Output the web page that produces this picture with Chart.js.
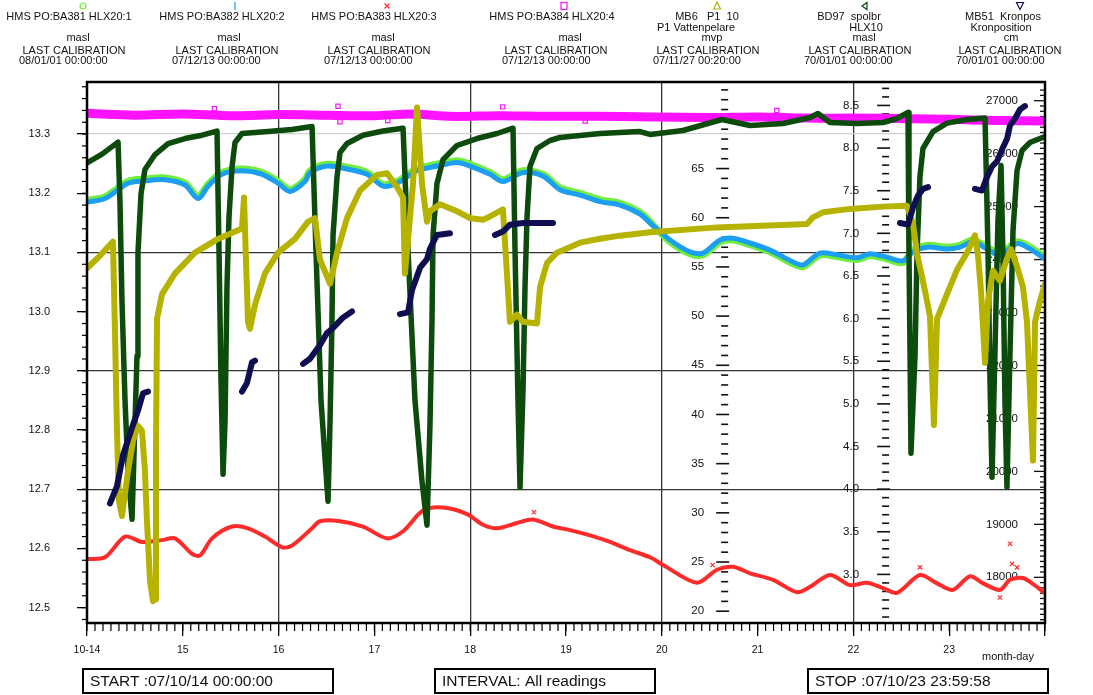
<!DOCTYPE html>
<html><head><meta charset="utf-8">
<script src="https://cdn.jsdelivr.net/npm/chart.js@4.4.0/dist/chart.umd.min.js"></script>
<style>html,body{margin:0;padding:0;background:#fff;}canvas{display:block;}</style>
</head><body>
<canvas id="c" width="1093" height="695"></canvas>
<script>
// ---------------- DATA ----------------
const seriesNames = ['HMS PO:BA381 HLX20:1','HMS PO:BA382 HLX20:2','HMS PO:BA383 HLX20:3','HMS PO:BA384 HLX20:4','MB6   P1  10','BD97  spolbr','MB51  Kronpos'];
const seriesSub   = ['','','','','P1 Vattenpelare','HLX10','Kronposition'];
const seriesUnits = ['masl','masl','masl','masl','mvp','masl','cm'];
const calibDates  = ['08/01/01 00:00:00','07/12/13 00:00:00','07/12/13 00:00:00','07/12/13 00:00:00','07/11/27 00:20:00','70/01/01 00:00:00','70/01/01 00:00:00'];

const dayTicks   = [14,15,16,17,18,19,20,21,22,23,24];
const gridDays   = [16,18,20,22];
const leftTicks  = [12.5,12.6,12.7,12.8,12.9,13.0,13.1,13.2,13.3];
const mvpLabels  = [20,25,30,35,40,45,50,55,60,65];
const hlxLabels  = [3.0,3.5,4.0,4.5,5.0,5.5,6.0,6.5,7.0,7.5,8.0,8.5];
const kronLabels = [18000,19000,20000,21000,22000,23000,24000,25000,26000,27000];

const startText = 'START :07/10/14 00:00:00';
const intervalText = 'INTERVAL: All readings';
const stopText = 'STOP :07/10/23 23:59:58';

// HLX20:1 (masl)
const hlx20_1 = [[14.000,13.188],[14.188,13.194],[14.428,13.220],[14.605,13.224],[14.814,13.226],[15.023,13.217],[15.159,13.194],[15.263,13.215],[15.409,13.235],[15.618,13.241],[15.827,13.235],[15.994,13.220],[16.119,13.206],[16.276,13.223],[16.328,13.238],[16.505,13.249],[16.714,13.244],[16.923,13.235],[17.090,13.215],[17.236,13.220],[17.445,13.241],[17.653,13.249],[17.862,13.255],[17.998,13.249],[18.207,13.235],[18.342,13.223],[18.551,13.238],[18.760,13.232],[18.937,13.209],[19.146,13.200],[19.355,13.189],[19.564,13.183],[19.772,13.168],[19.877,13.152],[20.086,13.118],[20.294,13.098],[20.430,13.096],[20.608,13.118],[20.743,13.121],[20.921,13.113],[21.129,13.101],[21.370,13.081],[21.474,13.076],[21.651,13.096],[21.829,13.093],[22.038,13.088],[22.173,13.095],[22.351,13.089],[22.518,13.083],[22.622,13.104],[22.768,13.112],[22.977,13.109],[23.113,13.112],[23.248,13.121],[23.395,13.109],[23.530,13.098],[23.708,13.118],[23.843,13.109],[24.000,13.092]];
// HLX20:2 (masl)
const hlx20_2 = [[14.000,13.185],[14.188,13.191],[14.428,13.217],[14.605,13.221],[14.814,13.223],[15.023,13.214],[15.159,13.191],[15.263,13.212],[15.409,13.232],[15.618,13.238],[15.827,13.232],[15.994,13.217],[16.119,13.203],[16.276,13.220],[16.328,13.235],[16.505,13.246],[16.714,13.241],[16.923,13.232],[17.090,13.212],[17.236,13.217],[17.445,13.238],[17.653,13.246],[17.862,13.252],[17.998,13.246],[18.207,13.232],[18.342,13.220],[18.551,13.235],[18.760,13.229],[18.937,13.206],[19.146,13.197],[19.355,13.186],[19.564,13.180],[19.772,13.165],[19.877,13.150],[20.086,13.121],[20.294,13.101],[20.430,13.099],[20.608,13.121],[20.743,13.124],[20.921,13.116],[21.129,13.104],[21.370,13.084],[21.474,13.079],[21.651,13.099],[21.829,13.096],[22.038,13.091],[22.173,13.098],[22.351,13.092],[22.518,13.086],[22.622,13.101],[22.768,13.109],[22.977,13.106],[23.113,13.109],[23.248,13.118],[23.395,13.106],[23.530,13.095],[23.708,13.115],[23.843,13.106],[24.000,13.089]];
// HLX20:3 (masl)
const hlx20_3 = [[14.000,12.582],[14.188,12.585],[14.397,12.620],[14.574,12.611],[14.783,12.614],[14.919,12.617],[15.096,12.591],[15.180,12.588],[15.305,12.617],[15.514,12.637],[15.681,12.634],[15.858,12.620],[16.036,12.602],[16.140,12.605],[16.349,12.634],[16.432,12.646],[16.641,12.646],[16.881,12.637],[17.132,12.617],[17.299,12.629],[17.507,12.664],[17.716,12.669],[17.967,12.658],[18.134,12.640],[18.280,12.634],[18.489,12.643],[18.656,12.649],[18.864,12.637],[19.042,12.631],[19.251,12.622],[19.459,12.611],[19.668,12.597],[19.877,12.585],[20.013,12.572],[20.367,12.542],[20.576,12.564],[20.743,12.569],[20.921,12.558],[21.161,12.547],[21.411,12.526],[21.547,12.535],[21.756,12.555],[21.965,12.538],[22.142,12.542],[22.309,12.533],[22.455,12.525],[22.695,12.555],[22.873,12.541],[23.040,12.530],[23.217,12.553],[23.353,12.541],[23.530,12.530],[23.635,12.547],[23.770,12.550],[23.916,12.535],[24.000,12.524]];
const hlx20_3_out = [[18.666,12.661],[20.530,12.572],[22.695,12.568],[23.530,12.517],[23.635,12.608],[23.656,12.574],[23.708,12.568]];
// HLX20:4 (masl)
const hlx20_4 = [[14.00,13.335],[14.5,13.332],[15.0,13.334],[15.5,13.331],[16.0,13.333],[16.5,13.332],[17.0,13.331],[17.4,13.334],[17.8,13.330],[18.3,13.331],[18.8,13.330],[19.3,13.330],[19.9,13.329],[20.5,13.328],[21.0,13.329],[21.5,13.327],[22.0,13.327],[22.6,13.326],[23.0,13.325],[23.5,13.323],[24.0,13.322]];
const hlx20_4_out = [[15.33,13.343],[16.62,13.347],[16.64,13.321],[17.14,13.323],[18.34,13.346],[19.20,13.322],[21.20,13.340]];
// MB6 P1 10 (mvp)
const mb6 = [[14.000,54.87],[14.115,55.93],[14.271,57.57],[14.292,48.51],[14.313,38.33],[14.334,31.20],[14.365,29.67],[14.428,34.25],[14.480,37.31],[14.532,38.84],[14.574,38.33],[14.605,34.25],[14.626,29.16],[14.658,23.05],[14.689,21.02],[14.710,21.22],[14.720,36.29],[14.731,49.73],[14.783,52.23],[14.919,54.34],[15.127,56.45],[15.367,57.85],[15.618,58.91],[15.639,62.07],[15.660,55.50],[15.681,49.42],[15.701,48.71],[15.754,51.19],[15.858,54.34],[15.994,56.45],[16.171,57.85],[16.307,59.60],[16.380,59.96],[16.432,55.75],[16.537,53.29],[16.610,56.45],[16.714,59.96],[16.850,62.77],[17.027,64.36],[17.132,64.53],[17.236,63.13],[17.299,62.07],[17.319,54.34],[17.403,63.47],[17.445,71.21],[17.497,63.47],[17.549,59.60],[17.580,60.66],[17.685,61.37],[17.862,60.66],[17.998,59.96],[18.134,59.79],[18.207,60.13],[18.342,60.84],[18.415,49.42],[18.489,50.14],[18.551,49.42],[18.697,49.25],[18.729,52.94],[18.802,55.40],[18.906,56.45],[19.146,57.47],[19.355,57.87],[19.564,58.18],[19.877,58.52],[20.576,59.02],[21.516,59.37],[21.578,60.04],[21.683,60.55],[21.965,60.90],[22.309,61.13],[22.559,61.23],[22.622,59.40],[22.664,56.35],[22.747,52.58],[22.800,49.93],[22.841,38.94],[22.873,49.73],[22.977,52.23],[23.081,54.70],[23.186,56.45],[23.269,58.21],[23.301,56.14],[23.332,52.58],[23.374,45.25],[23.405,51.56],[23.457,54.62],[23.530,53.60],[23.603,55.84],[23.645,56.80],[23.708,55.04],[23.770,52.94],[23.812,49.42],[23.843,42.40],[23.875,35.32],[23.896,49.42],[23.948,51.56],[24.000,53.29]];
// BD97 spolbr HLX10 (masl)
const bd97 = [[14.000,7.827],[14.157,7.929],[14.324,8.070],[14.344,7.384],[14.365,6.209],[14.397,5.033],[14.428,4.210],[14.470,3.646],[14.522,5.562],[14.532,6.772],[14.564,7.466],[14.605,7.748],[14.710,7.924],[14.846,8.053],[15.023,8.112],[15.200,8.151],[15.357,8.200],[15.378,6.796],[15.399,5.268],[15.420,4.175],[15.441,4.798],[15.461,6.373],[15.482,7.184],[15.514,7.783],[15.545,8.065],[15.618,8.171],[15.889,8.194],[16.140,8.218],[16.349,8.253],[16.390,6.796],[16.443,5.033],[16.516,3.858],[16.537,4.798],[16.557,5.962],[16.568,6.972],[16.610,7.666],[16.641,7.948],[16.714,8.053],[16.881,8.151],[17.090,8.200],[17.299,8.233],[17.351,6.796],[17.424,5.033],[17.497,4.093],[17.549,3.576],[17.580,4.751],[17.601,5.962],[17.612,6.972],[17.653,7.583],[17.716,7.865],[17.862,8.030],[18.071,8.112],[18.280,8.171],[18.447,8.233],[18.468,6.796],[18.499,5.033],[18.520,4.022],[18.551,5.151],[18.572,6.373],[18.593,7.184],[18.624,7.783],[18.697,7.995],[18.833,8.089],[18.937,8.124],[19.355,8.171],[19.772,8.194],[19.877,8.160],[20.221,8.206],[20.628,8.335],[20.921,8.265],[21.265,8.288],[21.547,8.359],[21.630,8.406],[21.756,8.300],[22.038,8.288],[22.309,8.300],[22.455,8.347],[22.570,8.418],[22.580,6.796],[22.591,5.621],[22.601,4.422],[22.643,5.562],[22.664,6.772],[22.695,7.666],[22.726,7.995],[22.831,8.194],[22.977,8.293],[23.186,8.335],[23.374,8.354],[23.405,6.796],[23.426,5.268],[23.447,4.140],[23.478,5.621],[23.509,7.149],[23.541,7.795],[23.562,6.678],[23.582,5.033],[23.603,4.022],[23.635,5.621],[23.666,7.031],[23.708,7.736],[23.760,7.971],[23.843,8.065],[24.000,8.136]];
// MB51 Kronpos (cm)
const mb51 = [[14.240,19396],[14.313,19720],[14.376,20306],[14.470,20826],[14.532,21149],[14.585,21475],[14.637,21507],[14.64,null],
[15.618,21507],[15.670,21671],[15.722,22059],[15.754,22093],[15.76,null],
[16.255,22029],[16.328,22127],[16.432,22387],[16.505,22613],[16.568,22709],[16.672,22904],[16.766,23021],[16.77,null],
[17.267,22970],[17.351,23002],[17.392,23422],[17.445,23686],[17.476,23846],[17.549,24008],[17.580,24204],[17.653,24464],[17.789,24496],[17.80,null],
[18.259,24464],[18.342,24528],[18.415,24658],[18.551,24690],[18.864,24690],[18.87,null],
[22.486,24691],[22.570,24659],[22.622,24985],[22.674,25204],[22.726,25334],[22.779,25367],[22.78,null],
[23.269,25334],[23.342,25303],[23.395,25561],[23.447,25757],[23.499,25853],[23.551,26077],[23.603,26275],[23.635,26535],[23.687,26663],[23.739,26834],[23.791,26898]];

// ---------------- STYLE / LAYOUT ----------------
const FONT = '"Liberation Sans", Arial, Helvetica, sans-serif';
Chart.defaults.font.family = FONT;
Chart.defaults.color = '#000';
const C = {g:'#6fee3c', b:'#1c9ef2', r:'#ff2b2b', m:'#ff12ff', o:'#b6b200', d:'#0d4b0d', n:'#0e0e50'};
const mvpAxisDay = 20.63, hlxAxisDay = 22.31;
const toXY = a => a.map(p => ({x:p[0], y:p[1]}));
const near = (a,b) => Math.abs(a-b) < 1e-6;

function innerAxis(ctx, ys, ax, from, to, step, labels, gap, top, bottom) {
  ctx.strokeStyle = '#111'; ctx.lineWidth = 1.6;
  const n = Math.round((to-from)/step);
  for (let i=0;i<=n;i++) {
    const v = from + i*step, y = ys.getPixelForValue(v);
    if (y < top+4 || y > bottom-4) continue;
    const major = labels.some(l => Math.abs(l-v) < step/10);
    ctx.beginPath(); ctx.moveTo(ax-(major?6:1), y); ctx.lineTo(ax+(major?7:6), y); ctx.stroke();
  }
  ctx.fillStyle = '#111'; ctx.font = '11.5px '+FONT; ctx.textAlign = 'right'; ctx.textBaseline = 'middle';
  labels.forEach(l => ctx.fillText(step < 1 ? l.toFixed(1) : String(l), ax-gap, ys.getPixelForValue(l)));
}

const decor = {
  id:'decor',
  beforeDatasetsDraw(chart) {
    const ctx = chart.ctx, a = chart.chartArea, X = chart.scales.x;
    ctx.save();
    innerAxis(ctx, chart.scales.yMvp, X.getPixelForValue(mvpAxisDay), 19, 73, 1, mvpLabels, 18, a.top, a.bottom);
    innerAxis(ctx, chart.scales.yHlx, X.getPixelForValue(hlxAxisDay), 2.5, 8.7, 0.1, hlxLabels, 24, a.top, a.bottom);
    // right (Kronpos) axis
    const K = chart.scales.yKron;
    ctx.strokeStyle = '#111'; ctx.lineWidth = 1.3;
    for (let i=0;i<=101;i++) {
      const v = 17200 + i*100, y = K.getPixelForValue(v);
      if (y < a.top+3 || y > a.bottom-3) continue;
      const major = v % 1000 === 0;
      ctx.beginPath(); ctx.moveTo(a.right-(major?11:5), y); ctx.lineTo(a.right, y); ctx.stroke();
    }
    ctx.fillStyle = '#111'; ctx.font = '11.5px '+FONT; ctx.textAlign='right'; ctx.textBaseline='middle';
    kronLabels.forEach(l => ctx.fillText(String(l), a.right-27, K.getPixelForValue(l)));
    ctx.restore();
  },
  afterDatasetsDraw(chart) {
    const ctx = chart.ctx, a = chart.chartArea, X = chart.scales.x, Y = chart.scales.y;
    ctx.save();
    // minor ticks
    ctx.strokeStyle = '#000'; ctx.lineWidth = 1.2;
    for (let i=0;i<=120;i++) {
      const x = X.getPixelForValue(14 + i/12);
      ctx.beginPath(); ctx.moveTo(x, a.bottom); ctx.lineTo(x, a.bottom+8); ctx.stroke();
    }
    for (let i=0;i<=45;i++) {
      const y = Y.getPixelForValue(12.48 + i*0.02);
      if (y < a.top+2) continue;
      ctx.beginPath(); ctx.moveTo(a.left-5, y); ctx.lineTo(a.left, y); ctx.stroke();
    }
    // frame
    ctx.lineWidth = 2.5; ctx.strokeStyle = '#000';
    ctx.strokeRect(a.left, a.top, a.right-a.left, a.bottom-a.top);
    ctx.restore();
  },
  afterDraw(chart) {
    const ctx = chart.ctx;
    ctx.save();
    ctx.fillStyle = '#111'; ctx.font = '11px '+FONT; ctx.textBaseline = 'middle';
    const nameC = [69,222,374,552,707,849,1003];
    const subC  = [0,0,0,0,696,866,1001];
    const unitC = [78,229,383,570,712,864,1011];
    const lcC   = [74,227,379,556,708,860,1010];
    const dateL = [19,172,324,502,653,804,956];
    const mkX   = [83,235,387,564,717,865,1020];
    for (let i=0;i<7;i++) {
      ctx.textAlign = 'center';
      ctx.fillText(seriesNames[i], nameC[i], 17);
      if (seriesSub[i]) ctx.fillText(seriesSub[i], subC[i], 28);
      ctx.fillText(seriesUnits[i], unitC[i], 38);
      ctx.fillText('LAST CALIBRATION', lcC[i], 51);
      ctx.textAlign = 'left';
      ctx.fillText(calibDates[i], dateL[i], 61);
    }
    // markers
    const my = 6; ctx.lineWidth = 1.2;
    ctx.strokeStyle = C.g; ctx.beginPath(); ctx.arc(mkX[0], my, 3, 0, Math.PI*2); ctx.stroke();
    ctx.strokeStyle = C.b; ctx.beginPath(); ctx.moveTo(mkX[1], 2); ctx.lineTo(mkX[1], 10); ctx.stroke();
    ctx.strokeStyle = C.r; ctx.beginPath(); ctx.moveTo(mkX[2]-2.5, my-2.5); ctx.lineTo(mkX[2]+2.5, my+2.5); ctx.moveTo(mkX[2]+2.5, my-2.5); ctx.lineTo(mkX[2]-2.5, my+2.5); ctx.stroke();
    ctx.strokeStyle = C.m; ctx.strokeRect(mkX[3]-3, my-3.5, 6, 7);
    ctx.strokeStyle = C.o; ctx.beginPath(); ctx.moveTo(mkX[4], 2); ctx.lineTo(mkX[4]+3.5, 9); ctx.lineTo(mkX[4]-3.5, 9); ctx.closePath(); ctx.stroke();
    ctx.strokeStyle = C.d; ctx.beginPath(); ctx.moveTo(mkX[5]-3, my); ctx.lineTo(mkX[5]+2, my-3.5); ctx.lineTo(mkX[5]+2, my+3.5); ctx.closePath(); ctx.stroke();
    ctx.strokeStyle = C.n; ctx.beginPath(); ctx.moveTo(mkX[6]-3.5, 2.5); ctx.lineTo(mkX[6]+3.5, 2.5); ctx.lineTo(mkX[6], 9.5); ctx.closePath(); ctx.stroke();
    // month-day
    ctx.textAlign = 'center'; ctx.font = '11px '+FONT;
    ctx.fillText('month-day', 1008, 657);
    // bottom boxes
    ctx.strokeStyle = '#000'; ctx.lineWidth = 2;
    ctx.font = '15.5px '+FONT; ctx.textAlign = 'left';
    [[83,333,startText],[435,655,intervalText],[808,1048,stopText]].forEach(b => {
      ctx.strokeRect(b[0], 669, b[1]-b[0], 24);
      ctx.fillText(b[2], b[0]+7, 682);
    });
    ctx.restore();
  }
};

const lineDs = (label, data, axis, color, width, order, tension) => ({
  label, data: toXY(data), yAxisID: axis, borderColor: color, backgroundColor: color,
  borderWidth: width, pointRadius: 0, tension: tension || 0, order,
  borderJoinStyle: 'round', borderCapStyle: 'round', spanGaps: false, fill: false
});
const markDs = (label, data, axis, color, style, order) => ({
  label, data: toXY(data), yAxisID: axis, showLine: false, pointStyle: style, pointRadius: 3,
  borderColor: color, backgroundColor: 'rgba(0,0,0,0)', pointBorderWidth: 1.2, order
});

new Chart(document.getElementById('c'), {
  type: 'line',
  data: { datasets: [
    lineDs(seriesNames[0], hlx20_1, 'y', C.g, 7, 9, 0.3),
    lineDs(seriesNames[1], hlx20_2, 'y', C.b, 5, 8, 0.3),
    lineDs(seriesNames[2], hlx20_3, 'y', C.r, 4, 7, 0.3),
    markDs(seriesNames[2], hlx20_3_out, 'y', C.r, 'crossRot', 7),
    lineDs(seriesNames[3], hlx20_4, 'y', C.m, 9, 6, 0.3),
    markDs(seriesNames[3], hlx20_4_out, 'y', C.m, 'rect', 6),
    lineDs(seriesNames[5], bd97, 'yHlx', C.d, 5.5, 4, 0),
    lineDs(seriesNames[4], mb6, 'yMvp', C.o, 6, 3, 0),
    lineDs(seriesNames[6], mb51, 'yKron', C.n, 6, 1, 0)
  ]},
  options: {
    responsive: false, animation: false, devicePixelRatio: 1,
    layout: { padding: { top: 82, right: 48, left: 0, bottom: 0 } },
    plugins: { legend: { display: false }, tooltip: { enabled: false } },
    scales: {
      x: { type:'linear', min:14, max:24, position:'bottom',
        afterFit: s => { s.height = 72; },
        afterBuildTicks: s => { s.ticks = dayTicks.map(v => ({value:v})); },
        ticks: { callback: v => v === 14 ? '10-14' : (v === 24 ? '' : String(v)), font:{size:10.5}, padding:8, maxRotation:0, autoSkip:false, color:'#111' },
        grid: { color: c => (c.tick && gridDays.includes(c.tick.value)) ? '#333' : 'rgba(0,0,0,0)', lineWidth:1.3, tickLength:13, tickColor:'#000', tickWidth:1.3 },
        border: { display:false }
      },
      y: { type:'linear', min:12.474, max:13.388, position:'left',
        afterFit: s => { s.width = 87; },
        afterBuildTicks: s => { s.ticks = leftTicks.map(v => ({value:v})); },
        ticks: { callback: v => v.toFixed(1), font:{size:11}, padding:27, color:'#111' },
        grid: { color: c => { const v = c.tick ? c.tick.value : 0; if (near(v,13.3)) return '#cfcfcf'; if (near(v,13.1)||near(v,12.9)||near(v,12.7)) return '#333'; return 'rgba(0,0,0,0)'; }, lineWidth:1.3, tickLength:10, tickColor:'#000', tickWidth:1.3 },
        border: { display:false }
      },
      yMvp:  { type:'linear', min:18.8, max:73.8, display:false },
      yHlx:  { type:'linear', min:2.43, max:8.775, display:false },
      yKron: { type:'linear', min:17137, max:27353, display:false }
    }
  },
  plugins: [decor]
});
</script>
</body></html>
